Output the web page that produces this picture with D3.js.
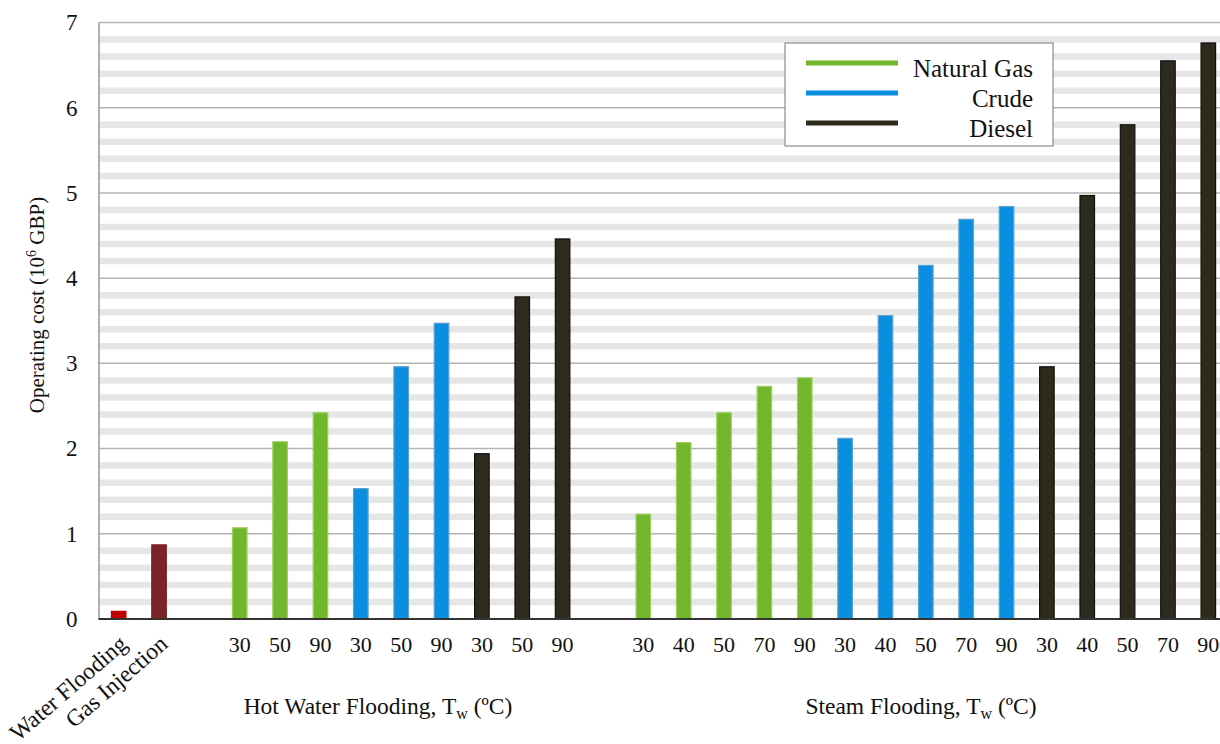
<!DOCTYPE html>
<html>
<head>
<meta charset="utf-8">
<script src="https://cdn.jsdelivr.net/npm/d3@7"></script>
<style>
  body { margin: 0; background: #fff; }
  svg text { font-family: "Liberation Serif", serif; fill: #111; }
</style>
</head>
<body>
<svg id="chart"></svg>
<script>
// Chart data
const baseCases = ["Water Flooding", "Gas Injection"];
const baseValues = [0.09, 0.87];
const baseColors = ["#c00000", "#7b2327"];

const hotTemps = ["30", "50", "90"];
const hotGas = [1.07, 2.08, 2.42];
const hotCrude = [1.53, 2.96, 3.47];
const hotDiesel = [1.94, 3.78, 4.46];

const steamTemps = ["30", "40", "50", "70", "90"];
const steamGas = [1.23, 2.07, 2.42, 2.73, 2.83];
const steamCrude = [2.12, 3.56, 4.15, 4.69, 4.84];
const steamDiesel = [2.96, 4.97, 5.80, 6.55, 6.76];

const fuels = ["Natural Gas", "Crude", "Diesel"];
const fuelFill = { "Natural Gas": "#72b62c", "Crude": "#0a8ee0", "Diesel": "#2e2a1c" };
const fuelStroke = { "Natural Gas": "#9ccf5e", "Crude": "#5a9fd0", "Diesel": "#111" };

const yTicks = [0, 1, 2, 3, 4, 5, 6, 7];

const width = 1220;
const height = 744;
const margin = { top: 22.5, bottom: 619, left: 98.5, right: 1228.5 };
const serif = "Liberation Serif";

const svg = d3.select("#chart")
    .attr("width", width)
    .attr("height", height)
    .attr("font-family", serif);

// Flatten everything into one list of slots (with empty gap slots)
const bars = [];
baseCases.forEach((c, i) => bars.push({ key: "b" + i, label: c, value: baseValues[i], fill: baseColors[i], stroke: baseColors[i] }));
bars.push({ key: "gap1", gap: true });
const addGroup = (prefix, temps, series) => {
    series.forEach((vals, s) => {
        temps.forEach((t, i) => bars.push({
            key: prefix + s + "_" + i, label: t, value: vals[i],
            fill: fuelFill[fuels[s]], stroke: fuelStroke[fuels[s]]
        }));
    });
};
addGroup("h", hotTemps, [hotGas, hotCrude, hotDiesel]);
bars.push({ key: "gap2", gap: true });
addGroup("s", steamTemps, [steamGas, steamCrude, steamDiesel]);

const x = d3.scaleBand()
    .domain(bars.map(d => d.key))
    .range([margin.left, margin.right])
    .paddingInner(0.64)
    .paddingOuter(0.32);

const y = d3.scaleLinear()
    .domain([0, 7])
    .range([margin.bottom, margin.top]);

// light stripes at every 0.2 between the gridlines
const minor = d3.range(0, 70).map(d => d / 10).filter(v => Math.round(v * 10) % 2 === 0 && Math.round(v * 10) % 10 !== 0);
svg.append("g")
    .selectAll("line")
    .data(minor)
    .join("line")
    .attr("x1", margin.left)
    .attr("x2", margin.right)
    .attr("y1", d => y(d))
    .attr("y2", d => y(d))
    .attr("stroke", "#e6e6e6")
    .attr("stroke-width", 6.5);

// major gridlines
svg.append("g")
    .selectAll("line")
    .data(yTicks.slice(1))
    .join("line")
    .attr("x1", margin.left)
    .attr("x2", margin.right)
    .attr("y1", d => y(d))
    .attr("y2", d => y(d))
    .attr("stroke", "#b4b4b4")
    .attr("stroke-width", 1.5);

// left axis
const yAxis = svg.append("g")
    .attr("transform", `translate(${margin.left},0)`)
    .call(d3.axisLeft(y).tickValues(yTicks).tickFormat(d3.format("d")).tickSize(0).tickPadding(21));
yAxis.attr("font-family", serif);
yAxis.select(".domain").attr("stroke", "#999").attr("stroke-width", 1.5);
yAxis.selectAll("text")
    .attr("font-size", 23)
    .style("font-family", serif)
    .attr("fill", "#111");

// bars
svg.append("g")
    .selectAll("rect")
    .data(bars.filter(d => !d.gap))
    .join("rect")
    .attr("x", d => x(d.key))
    .attr("width", x.bandwidth())
    .attr("y", d => y(d.value))
    .attr("height", d => y(0) - y(d.value))
    .attr("fill", d => d.fill)
    .attr("stroke", d => d.stroke)
    .attr("stroke-width", 1.2);

// bottom axis line
svg.append("line")
    .attr("x1", margin.left)
    .attr("x2", margin.right)
    .attr("y1", y(0))
    .attr("y2", y(0))
    .attr("stroke", "#333")
    .attr("stroke-width", 2);

// temperature labels
svg.append("g")
    .selectAll("text")
    .data(bars.filter(d => !d.gap && !d.key.startsWith("b")))
    .join("text")
    .attr("x", d => x(d.key) + x.bandwidth() / 2)
    .attr("y", 652)
    .attr("text-anchor", "middle")
    .attr("font-size", 22)
    .style("font-family", serif)
    .text(d => d.label);

// rotated base case labels
svg.append("g")
    .selectAll("text")
    .data(bars.filter(d => d.key.startsWith("b")))
    .join("text")
    .attr("transform", d => `translate(${x(d.key) + x.bandwidth() / 2 + 10},${646}) rotate(-41)`)
    .attr("text-anchor", "end")
    .attr("font-size", 23.5)
    .style("font-family", serif)
    .text(d => d.label);

// group titles
const groupTitle = (label, cx) => {
    const t = svg.append("text")
        .attr("x", cx)
        .attr("y", 714)
        .attr("text-anchor", "middle")
        .attr("font-size", 23.5)
        .style("font-family", serif);
    t.append("tspan").text(label + ", T");
    t.append("tspan").attr("font-size", 16).attr("dy", 5).text("w");
    t.append("tspan").attr("dy", -5).text(" (ºC)");
};
groupTitle("Hot Water Flooding", 378);
groupTitle("Steam Flooding", 921);

// y axis label
const yl = svg.append("text")
    .attr("transform", "translate(44,305) rotate(-90)")
    .attr("text-anchor", "middle")
    .attr("font-size", 21)
    .style("font-family", serif);
yl.append("tspan").text("Operating cost (10");
yl.append("tspan").attr("font-size", 14).attr("dy", -8).text("6");
yl.append("tspan").attr("dy", 8).text(" GBP)");

// legend
const legend = svg.append("g");
legend.append("rect")
    .attr("x", 785)
    .attr("y", 43)
    .attr("width", 268)
    .attr("height", 103)
    .attr("fill", "#fff")
    .attr("stroke", "#777")
    .attr("stroke-width", 1);
fuels.forEach((f, i) => {
    const ly = 63 + i * 30;
    legend.append("line")
        .attr("x1", 806).attr("x2", 898)
        .attr("y1", ly).attr("y2", ly)
        .attr("stroke", fuelFill[f])
        .attr("stroke-width", 5);
    legend.append("text")
        .attr("x", 1033)
        .attr("y", ly + 14)
        .attr("text-anchor", "end")
        .attr("font-size", 25)
        .style("font-family", serif)
        .text(f);
});
</script>
</body>
</html>
